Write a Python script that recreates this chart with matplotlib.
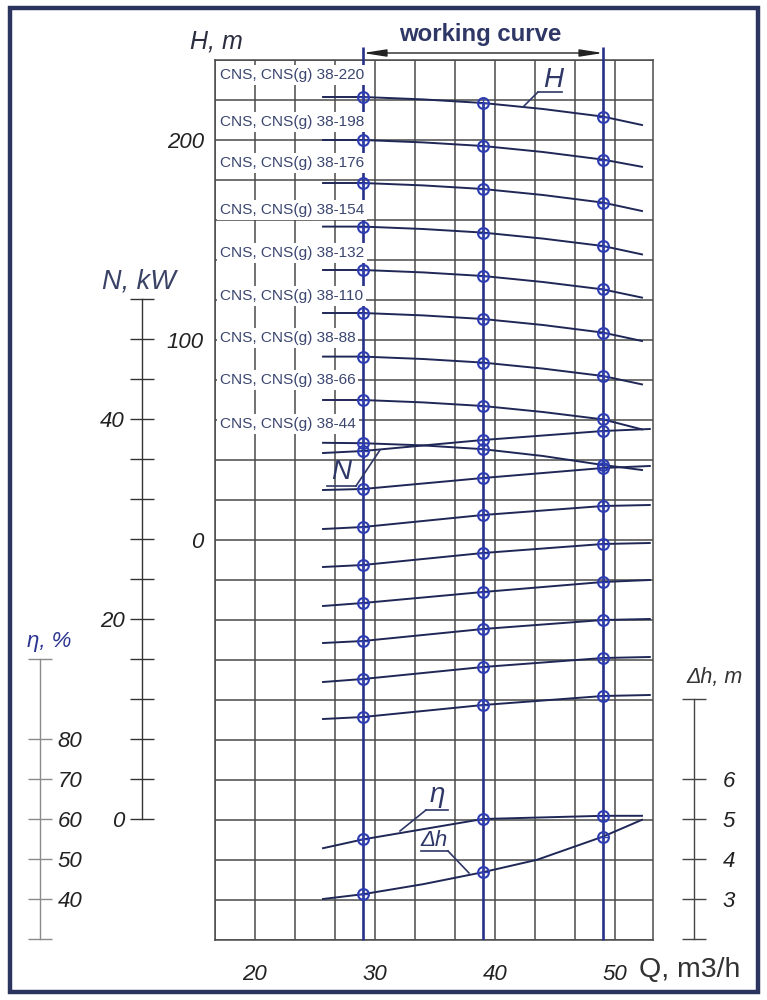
import numpy as np
import matplotlib
matplotlib.use('Agg')
import matplotlib.pyplot as plt
from matplotlib import font_manager as fm
from matplotlib.patches import Rectangle

avail = {f.name for f in fm.fontManager.ttflist}
SANS = 'Liberation Sans' if 'Liberation Sans' in avail else 'DejaVu Sans'
HAS_NARROW = 'Liberation Sans Narrow' in avail
NARROW = 'Liberation Sans Narrow' if HAS_NARROW else SANS
plt.rcParams['font.family'] = [SANS, 'DejaVu Sans']

# ---------------- data ----------------
Q_work = [29, 39, 49]                      # working points, m3/h
Q_ticks = [20, 30, 40, 50]
H_ticks = [0, 100, 200]

models = ['38-220', '38-198', '38-176', '38-154', '38-132',
          '38-110', '38-88', '38-66', '38-44']

Q_H = [25.67, 29, 34, 39, 44, 49, 52.25]
H_220 = [221.5, 221.5, 220.3, 218.5, 215.5, 211.7, 207.5]
H_198 = [200.0, 200.0, 198.8, 197.0, 194.0, 190.2, 186.6]
H_176 = [178.5, 178.5, 177.3, 175.5, 172.5, 168.7, 164.5]
H_154 = [156.7, 156.7, 155.5, 153.7, 150.7, 147.0, 142.8]
H_132 = [135.0, 135.0, 133.8, 132.0, 129.0, 125.3, 121.2]
H_110 = [113.5, 113.5, 112.3, 110.5, 107.5, 103.7, 99.5]
H_88 = [91.7, 91.7, 90.5, 88.7, 85.7, 82.0, 77.8]
H_66 = [70.0, 70.0, 68.8, 67.0, 64.0, 60.3, 55.3]
H_44 = [48.6, 48.4, 47.3, 45.4, 42.0, 37.5, 35.0]

Q_N = [25.67, 29, 39, 49, 52.9]
N_1 = [36.6, 36.8, 37.9, 38.8, 39.0]
N_2 = [32.9, 33.0, 34.1, 35.1, 35.3]
N_3 = [29.0, 29.2, 30.4, 31.3, 31.4]
N_4 = [25.2, 25.4, 26.6, 27.5, 27.6]
N_5 = [21.3, 21.6, 22.7, 23.7, 23.9]
N_6 = [17.6, 17.8, 19.0, 19.9, 20.0]
N_7 = [13.7, 14.0, 15.2, 16.1, 16.2]
N_8 = [10.0, 10.2, 11.4, 12.3, 12.4]

Q_eta = [25.67, 29, 39, 49, 52.25]
eta = [52.7, 54.9, 60.0, 60.8, 60.8]

Q_dh = [25.67, 29, 34, 39, 43.5, 49, 52.25]
dh = [3.0, 3.12, 3.37, 3.67, 3.98, 4.56, 4.98]

N_scale_ticks = list(range(0, 53, 4))
N_scale_labels = {0: '0', 20: '20', 40: '40'}
eta_scale_ticks = [30, 40, 50, 60, 70, 80, 100]
eta_scale_labels = {40: '40', 50: '50', 60: '60', 70: '70', 80: '80'}
dh_scale_ticks = [2, 3, 4, 5, 6, 8]
dh_scale_labels = {3: '3', 4: '4', 5: '5', 6: '6'}

H_curves = [H_220, H_198, H_176, H_154, H_132, H_110, H_88, H_66, H_44]
N_curves = [N_1, N_2, N_3, N_4, N_5, N_6, N_7, N_8]

# ---------------- styling ----------------
W, Hh = 767, 1000
GRID = '#4a4a4a'
CURVE = '#1f2757'
MARK = '#2d3cb0'
VLINE = '#28318a'
NAVY = '#2e3766'
DIGIT_FS = 18 if HAS_NARROW else 16
CNS_FS = 13 if HAS_NARROW else 11.1

fig = plt.figure(figsize=(W / 100, Hh / 100), dpi=100)
fig.patch.set_facecolor('white')

# main plotting area in pixels: x 215..653, y 60..940
rect = [215 / W, (Hh - 940) / Hh, (653 - 215) / W, 880 / Hh]
xlim = (20 - 40 / 12, 20 + 398 / 12)

axH = fig.add_axes(rect)
axH.set_xlim(*xlim)
axH.set_ylim(-200, 240)
axH.set_xticks(np.arange(-1, 10) * 10 / 3 + 20, minor=True)
axH.set_yticks(np.arange(-200, 241, 20), minor=True)
axH.set_xticks(Q_ticks)
axH.set_xticklabels([str(q) for q in Q_ticks])
axH.set_yticks(H_ticks)
axH.set_yticklabels([str(h) for h in H_ticks])
axH.grid(which='both', color=GRID, lw=1.1)
axH.set_axisbelow(True)
axH.tick_params(which='both', length=0)
axH.tick_params(axis='y', pad=8)
axH.tick_params(axis='x', pad=17)
for t in axH.get_xticklabels() + axH.get_yticklabels():
    t.set_fontfamily([NARROW, 'DejaVu Sans'])
    t.set_fontstyle('italic')
    t.set_fontsize(DIGIT_FS)
    t.set_color('#222222')
for s in axH.spines.values():
    s.set_color(GRID)
    s.set_linewidth(1.1)

# working vertical lines
H_top_px = (540 - 47) / 2.0
axH.vlines([Q_work[0], Q_work[2]], -200, H_top_px, color=VLINE, lw=1.9,
           clip_on=False, zorder=3)
axH.vlines([Q_work[1]], -200, np.interp(Q_work[1], Q_H, H_220), color=VLINE,
           lw=1.9, zorder=3)
axH.annotate('', xy=(Q_work[0], (540 - 53) / 2.0), xytext=(Q_work[2], (540 - 53) / 2.0),
             arrowprops=dict(arrowstyle='<|-|>,head_length=1.4,head_width=0.22',
                             color='#222222', lw=1.0, shrinkA=0, shrinkB=0),
             annotation_clip=False)


def marks(ax, qx, qy):
    yv = np.interp(Q_work, qx, qy)
    ax.plot(Q_work, yv, 'o', mfc='none', mec=MARK, ms=7.8, mew=1.5, zorder=5)
    ax.plot(Q_work, yv, '+', color=MARK, ms=7.8, mew=1.0, zorder=5)


for hc in H_curves:
    axH.plot(Q_H, hc, color=CURVE, lw=1.4, zorder=4)
    marks(axH, Q_H, hc)


def twin(ylim):
    ax = fig.add_axes(rect)
    ax.set_xlim(*xlim)
    ax.set_ylim(*ylim)
    ax.axis('off')
    return ax


axN = twin(((819 - 940) / 10, (819 - 60) / 10))
for nc in N_curves:
    axN.plot(Q_N, nc, color=CURVE, lw=1.4, zorder=4)
    marks(axN, Q_N, nc)

axE = twin((60 + (819 - 940) / 4, 60 + (819 - 60) / 4))
axE.plot(Q_eta, eta, color=CURVE, lw=1.4)
marks(axE, Q_eta, eta)

axD = twin((5 + (819 - 940) / 40, 5 + (819 - 60) / 40))
axD.plot(Q_dh, dh, color=CURVE, lw=1.4)
marks(axD, Q_dh, dh)


def scale_axis(xpx, ylim, ticks, labels, side, pad, color):
    ax = fig.add_axes([xpx / W, rect[1], 0.0001, rect[3]])
    ax.set_ylim(*ylim)
    ax.set_xticks([])
    ax.patch.set_visible(False)
    for s in ax.spines.values():
        s.set_visible(False)
    sp = ax.spines[side]
    sp.set_visible(True)
    sp.set_bounds(min(ticks), max(ticks))
    sp.set_color(color)
    sp.set_linewidth(1.0)
    if side == 'right':
        ax.yaxis.tick_right()
    ax.set_yticks(ticks)
    ax.set_yticklabels([labels.get(t, '') for t in ticks])
    ax.tick_params(axis='y', direction='inout', length=17, width=1.0,
                   color=color, pad=pad)
    for t in ax.get_yticklabels():
        t.set_fontfamily([NARROW, 'DejaVu Sans'])
        t.set_fontstyle('italic')
        t.set_fontsize(DIGIT_FS)
        t.set_color('#222222')
    return ax


scale_axis(142, axN.get_ylim(), N_scale_ticks, N_scale_labels, 'left', 4, '#333333')
scale_axis(40, axE.get_ylim(), eta_scale_ticks, eta_scale_labels, 'right', 4, '#8a8a8a')
scale_axis(694, axD.get_ylim(), dh_scale_ticks, dh_scale_labels, 'right', 12, '#444444')

# ---------------- overlay (pixel coords) ----------------
ov = fig.add_axes([0, 0, 1, 1])
ov.set_xlim(0, W)
ov.set_ylim(Hh, 0)
ov.axis('off')

label_y = [75, 122, 163, 210, 253, 296, 338, 380, 424]
for m, y in zip(models, label_y):
    ov.text(220, y, 'CNS, CNS(g) ' + m, ha='left', va='center', fontsize=CNS_FS,
            family=[NARROW, 'DejaVu Sans'], color='#3b4670',
            bbox=dict(fc='white', ec='none', pad=2.0), zorder=10)

ov.text(480, 35, 'working curve', ha='center', va='center', fontsize=17.3,
        fontweight='bold', color=NAVY)
ov.text(190, 41, 'H, m', ha='left', va='center', fontsize=18, style='italic',
        color='#2a2e3e')
ov.text(102, 282, 'N, kW', ha='left', va='center', fontsize=19.5, style='italic',
        color='#3a4266')
ov.text(686, 678, 'Δh, m', ha='left', va='center', fontsize=15.5, style='italic',
        color='#333333')
ov.text(27, 641, 'η, %', ha='left', va='center', fontsize=16, style='italic',
        color='#2c3590')
ov.text(639, 970, 'Q, m3/h', ha='left', va='center', fontsize=20.5, color='#333333')

# curve labels with leaders
lab_kw = dict(ha='center', va='center', style='italic', color=NAVY,
              family=[NARROW, 'DejaVu Sans'])
ov.text(553, 80, 'H', fontsize=20, **lab_kw)
ov.plot([538, 562], [92, 92], color=NAVY, lw=1.2)
ov.plot([538, 523], [92, 107], color=NAVY, lw=1.2)

ov.text(341, 472, 'N', fontsize=20, **lab_kw)
ov.plot([327, 356], [486, 486], color=NAVY, lw=1.2)
ov.plot([356, 380], [486, 450], color=NAVY, lw=1.2)

ov.text(437, 795, 'η', fontsize=20, **lab_kw)
ov.plot([426, 448], [810, 810], color=NAVY, lw=1.2)
ov.plot([426, 400], [810, 831], color=NAVY, lw=1.2)

ov.text(434, 841, 'Δh', fontsize=16, **lab_kw)
ov.plot([421, 448], [851, 851], color=NAVY, lw=1.2)
ov.plot([448, 469], [851, 873], color=NAVY, lw=1.2)

ov.add_patch(Rectangle((10, 8), 748, 984, fill=False, ec='#2b3560', lw=3.2))

fig.savefig('out.png', dpi=100)
